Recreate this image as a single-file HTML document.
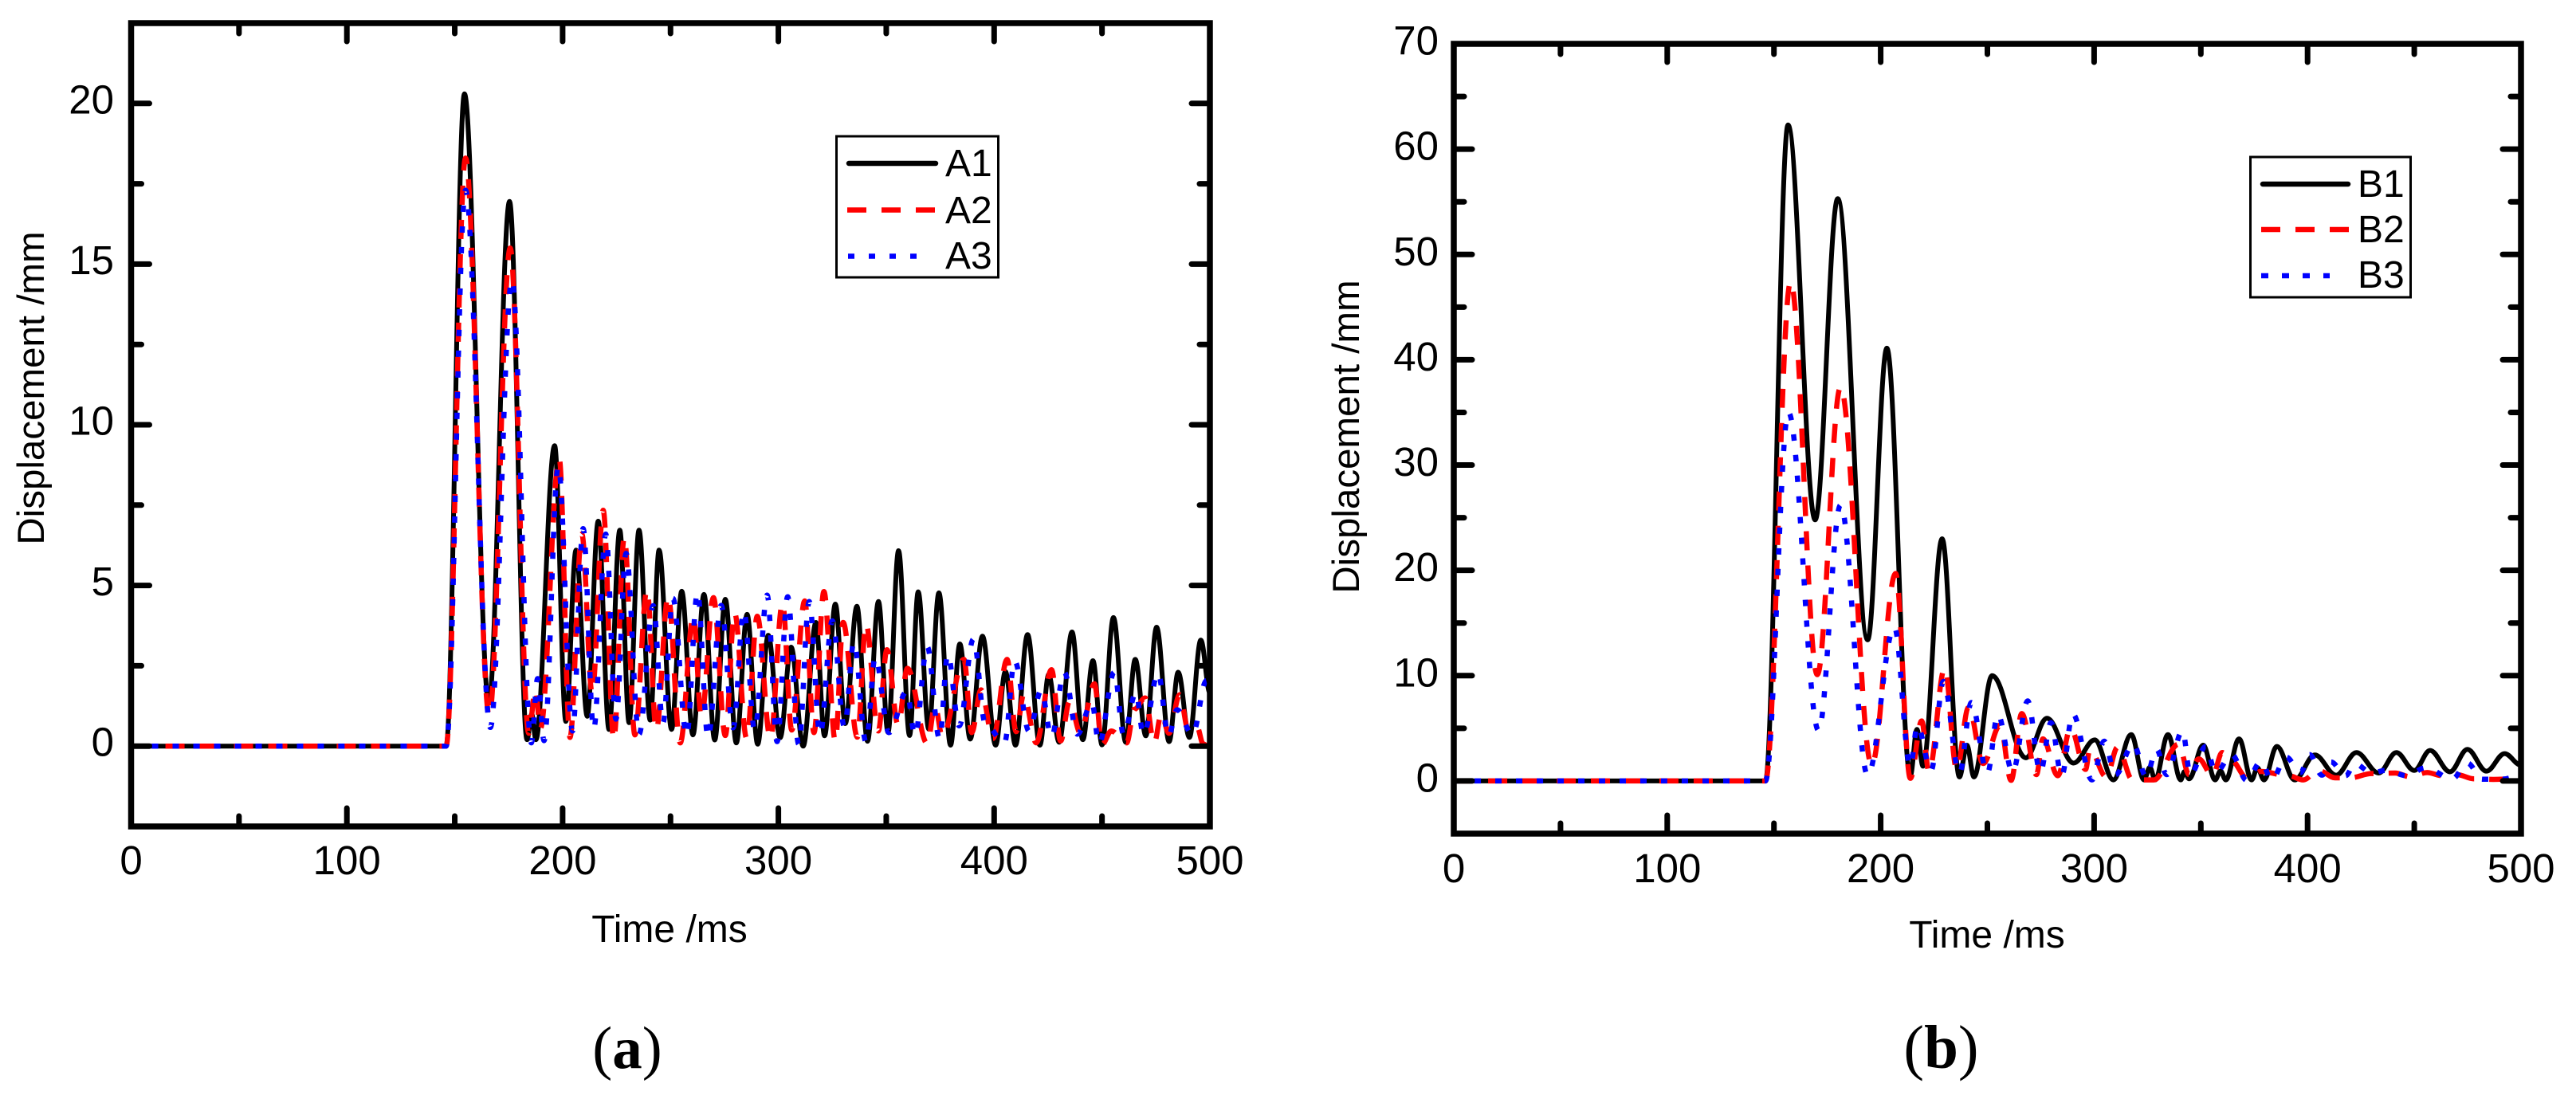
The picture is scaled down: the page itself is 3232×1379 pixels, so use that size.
<!DOCTYPE html>
<html lang="en">
<head>
<meta charset="utf-8">
<title>Displacement time histories</title>
<style>
html,body{margin:0;padding:0;background:#fff;}
svg{display:block;}
text{font-family:"Liberation Sans",sans-serif;fill:#000;}
.cap{font-family:"Liberation Serif",serif;}
</style>
</head>
<body>
<svg id="figure" xmlns="http://www.w3.org/2000/svg" width="3232" height="1379" viewBox="0 0 3232 1379">
  <rect x="0" y="0" width="3232" height="1379" fill="#fff"/>
  <g id="panelA"></g>
  <g id="panelB"></g>

  <g>
    <rect x="1049.5" y="171" width="203" height="177" fill="#fff" stroke="#000" stroke-width="3"/>
    <line x1="1065" y1="205" x2="1174" y2="205" stroke="#000" stroke-width="6.5" stroke-linecap="round"/>
    <text x="1186" y="221" font-size="48">A1</text>
    <line x1="1063" y1="263.5" x2="1175" y2="263.5" stroke="#f00" stroke-width="6.5" stroke-dasharray="24 19"/>
    <text x="1186" y="280" font-size="48">A2</text>
    <line x1="1064" y1="321.5" x2="1150" y2="321.5" stroke="#00f" stroke-width="6.5" stroke-dasharray="8 18"/>
    <text x="1186" y="337" font-size="48">A3</text>
  </g>

  <g>
    <rect x="2823.5" y="197" width="201" height="176" fill="#fff" stroke="#000" stroke-width="3"/>
    <line x1="2839" y1="231" x2="2946" y2="231" stroke="#000" stroke-width="6.5" stroke-linecap="round"/>
    <text x="2958" y="247" font-size="48">B1</text>
    <line x1="2837" y1="288" x2="2947" y2="288" stroke="#f00" stroke-width="6.5" stroke-dasharray="24 19"/>
    <text x="2958" y="304" font-size="48">B2</text>
    <line x1="2837" y1="346" x2="2923" y2="346" stroke="#00f" stroke-width="6.5" stroke-dasharray="9 17"/>
    <text x="2958" y="361" font-size="48">B3</text>
  </g>

  <text class="cap" x="787" y="1340" font-size="75" text-anchor="middle">(<tspan font-weight="bold">a</tspan>)</text>
  <text class="cap" x="2435.5" y="1340" font-size="77" text-anchor="middle">(<tspan font-weight="bold">b</tspan>)</text>
</svg>

<script>
// ---- axis tick values ----
const xMajorTicks = [0, 100, 200, 300, 400, 500];
const xMinorTicks = [50, 150, 250, 350, 450];
const yMajorTicksA = [0, 5, 10, 15, 20];
const yMinorTicksA = [2.5, 7.5, 12.5, 17.5];
const yMajorTicksB = [0, 10, 20, 30, 40, 50, 60, 70];
const yMinorTicksB = [5, 15, 25, 35, 45, 55, 65];

// ---- series A1 (turning points) ----
const timeA1 = [0,146,154.5,165.8,175.4,183.5,185.7,187.6,196.3,201.5,206.2,211.4,216.5,221.5,226.5,230.8,235.4,240.6,244.7,250.5,255.2,260.4,265.5,270.5,275.4,280.5,285.5,290.4,295.3,300.8,305.9,311.5,317.4,321.4,326.4,331,336.4,341.3,346.4,350.8,355.7,360.8,364.8,369.7,374.4,379.8,384.1,388.9,394.6,400.7,405.2,409.9,415.5,421.2,425.3,430.1,436.1,441.1,445.8,450,455.3,461,465.4,470.3,475.3,481.1,485.3,490.5,495.8,500];
const dispA1 = [0,0,20.3,1.35,16.95,.2,1.0,.2,9.35,.77,6.1,.93,7.0,.52,6.72,.73,6.72,.81,6.1,.52,4.82,.35,4.72,.19,4.57,.1,4.1,.06,3.45,.26,3.08,0,3.85,.32,4.42,.7,4.35,.15,4.5,.43,6.08,.33,4.8,.53,4.77,.03,3.18,.22,3.42,.03,2.32,.03,3.47,.03,2.23,.12,3.55,.2,2.66,.04,4.0,.12,2.7,.32,3.7,.14,2.3,.27,3.3,1.66];

// ---- series A2 ----
const timeA2 = [0,146,155,166,175.7,184.3,187.4,189.7,198.4,203.4,208.9,213.7,218.8,223.7,228.6,233.5,239.1,243.4,248.9,254.5,260.6,264.3,269.9,275.4,279.7,285.3,290.2,296.3,301.9,306.2,312.2,316.5,321.1,326.4,330,336.6,340.6,346.3,350.3,355.5,359.8,369,372.6,376,386,389.6,393.9,399.5,406,410.2,413.7,419.5,426.6,430.8,435,440,446.5,450,454.3,461.4,465,470,474.2,477.5,481,486,490,494,497,500];
const dispA2 = [0,0,18.3,.94,15.5,.4,1.75,.55,8.96,.27,6.6,1.64,7.34,.2,6.5,.35,4.86,.5,4.66,.1,4.04,.9,4.62,.33,4.15,.24,4.04,.24,4.45,.5,4.52,.42,4.81,.16,3.85,.28,3.8,.47,3,.66,2.42,.08,1.25,.3,2.7,.42,1.75,.24,2.7,.45,1.6,.1,2.38,.16,1.4,.4,1.94,.05,.47,.1,1.15,1.5,.1,1,.4,1.6,.5,.6,.05,.3];

// ---- series A3 ----
const timeA3 = [0,146,155,166.5,176.5,185.5,188.4,191.4,198,204.6,209.5,214.4,220,224.7,229.4,235.4,242,246.5,251.1,257.5,262.5,267.4,273.5,279,284,289,294.8,299.4,304.3,309.4,314.3,319.3,325,330.6,335,340.6,344.9,351.3,359.5,363.3,369,374.7,378.5,383.8,390.4,396,404.8,409.5,416.2,421.8,426.6,432.5,438.6,445.3,448.6,455.7,460,465.7,469.2,476,480.8,484.8,491.9,498.4,500];
const dispA3 = [0,0,17.3,.58,14.5,.1,2.1,.17,8.7,.47,6.77,.53,6.6,.84,6,.37,4.37,.72,4.6,.33,4.78,.27,4.38,.57,4.2,.5,4.7,.14,4.65,.06,4.5,.37,3.9,.6,3.23,.13,2.76,.42,1.7,.34,3.09,.23,2.85,.63,3.33,.68,.1,2.65,.46,1.73,.3,2.3,.37,1.35,.08,2.3,.36,1.66,.36,2.27,.32,1.13,.36,2.04,1.6];

// ---- series B1 ----
const timeB1 = [0,146,156.6,169.3,179.9,193.9,202.9,213.9,217,219.8,228.8,236.9,240.4,243.7,252.2,268,277.9,290.4,300.3,309,317.4,323.4,326.1,328.6,334.6,340.6,342.3,344.5,351.1,356.7,359.2,361.7,367.9,373.8,376.5,379.6,385.6,394,403.4,413.4,422.9,433.3,441.6,450,457.4,466.7,474.9,483.8,492.3,500];
const dispB1 = [0,0,62.3,24.8,55.3,13.4,41.1,.5,4.9,1.4,23,.38,3.4,.38,10,2.2,5.95,1.7,3.9,.1,4.4,.1,1.3,.1,4.4,.1,.88,.2,3.4,.1,.95,.1,4,.1,1.25,.1,3.28,.1,2.47,.55,2.7,.75,2.7,1,2.9,.87,3,.93,2.6,1.5];

// ---- series B2 ----
const timeB2 = [0,146,157.8,170.3,181.2,195.8,207,213.9,219.2,222.6,230,235.6,241.2,248,256,261.1,266.1,273,276,283,289,296,298,305.7,311,318,328,339.6,344.5,349,355.5,360,364,372,378,391,398,405,413,420,430,441,448,456,463,470,478,487,497,500];
const dispB2 = [0,0,47.4,10.1,37.4,1.5,19.7,.25,5.7,.9,10.7,1.1,7,1.66,5.3,.06,6.4,.6,4,.5,5,1.1,3,.38,3.2,.1,.1,3.5,.6,2.1,.5,2.7,2,.2,.9,.5,.1,1,.3,.3,.7,.75,.4,.8,.5,.6,.2,.15,.2,.1];

// ---- series B3 ----
const timeB3 = [0,146,156.8,170.9,181.2,193.9,206.4,213.9,217.2,223.6,229.4,236.9,242.5,250,254.9,261.8,268.9,274.8,279.8,284.8,290,299,304.7,310,318.4,324.4,329.2,334,341.4,345.1,352.3,357,364.5,371.5,378.2,383.2,390,396.7,401,406.7,411,417.8,422.2,430,436.7,446.7,455.2,467.8,474.9,481.8,491.1,500];
const dispB3 = [0,0,35,4.8,26.2,.55,14.6,1.4,5.25,1,9.46,.75,7.45,.75,6.3,.85,7.6,.85,5.55,.5,6.36,.1,3.78,.6,3.5,.4,3,.6,4.75,.6,3.28,.8,2.5,.05,1.84,.1,2.27,.8,2.5,.55,1.8,.5,1.63,.77,1,.5,1.26,.2,1.7,.17,.17,.5];

const NS = 'http://www.w3.org/2000/svg';

function linearScale(d0, d1, p0, p1) {
  return function (v) { return p0 + (v - d0) * (p1 - p0) / (d1 - d0); };
}

function smoothPath(ts, vs, xs, ys) {
  const n = Math.min(ts.length, vs.length);
  let d = 'M' + xs(ts[0]).toFixed(2) + ' ' + ys(vs[0]).toFixed(2);
  for (let i = 1; i < n; i++) {
    const x0 = xs(ts[i - 1]), y0 = ys(vs[i - 1]), x1 = xs(ts[i]), y1 = ys(vs[i]);
    const k = (x1 - x0) * 0.36;
    d += 'C' + (x0 + k).toFixed(2) + ' ' + y0.toFixed(2) + ' ' + (x1 - k).toFixed(2) + ' ' + y1.toFixed(2) + ' ' + x1.toFixed(2) + ' ' + y1.toFixed(2);
  }
  return d;
}

function drawSeries(parent, ts, vs, xs, ys, color, dash, name) {
  const el = document.createElementNS(NS, 'path');
  
  
  el.setAttribute('d', smoothPath(ts, vs, xs, ys));
  el.setAttribute('fill', 'none');
  el.setAttribute('stroke', color);
  el.setAttribute('stroke-width', dash ? '6.5' : '6');
  el.setAttribute('stroke-linejoin', 'round');
  if (dash) el.setAttribute('stroke-dasharray', dash);
  parent.appendChild(el);
}

function drawTick(parent, x1, y1, x2, y2) {
  const el = document.createElementNS(NS, 'line');
  
  
  el.setAttribute('x1', x1);
  el.setAttribute('y1', y1);
  el.setAttribute('x2', x2);
  el.setAttribute('y2', y2);
  el.setAttribute('stroke', '#000');
  el.setAttribute('stroke-width', '7');
  el.setAttribute('stroke-linecap', 'round');
  parent.appendChild(el);
}

function drawLabel(parent, x, y, str, anchor, size, name) {
  const el = document.createElementNS(NS, 'text');
  
  
  el.setAttribute('x', x);
  el.setAttribute('y', y);
  el.setAttribute('text-anchor', anchor);
  el.setAttribute('font-size', size);
  el.textContent = str;
  parent.appendChild(el);
  return el;
}

function drawAxes(parent, box, xs, ys, yMajor, yMinor, opt) {
  const majorLen = 20, minorLen = 10, inset = 3;
  xMajorTicks.forEach(function (t) {
    const x = xs(t);
    drawTick(parent, x, box.bottom - inset, x, box.bottom - inset - majorLen);
    drawTick(parent, x, box.top + inset, x, box.top + inset + majorLen);
    drawLabel(parent, x, opt.xLabelY, String(t), 'middle', 51, 'x-tick-label');
  });
  xMinorTicks.forEach(function (t) {
    const x = xs(t);
    drawTick(parent, x, box.bottom - inset, x, box.bottom - inset - minorLen);
    drawTick(parent, x, box.top + inset, x, box.top + inset + minorLen);
  });
  yMajor.forEach(function (v) {
    const y = ys(v);
    drawTick(parent, box.left + inset, y, box.left + inset + majorLen, y);
    drawTick(parent, box.right - inset, y, box.right - inset - majorLen, y);
    drawLabel(parent, opt.yLabelX, y + opt.yLabelDy, String(v), 'end', 51, 'y-tick-label');
  });
  yMinor.forEach(function (v) {
    const y = ys(v);
    drawTick(parent, box.left + inset, y, box.left + inset + minorLen, y);
    drawTick(parent, box.right - inset, y, box.right - inset - minorLen, y);
  });
  const frame = document.createElementNS(NS, 'rect');
  
  
  frame.setAttribute('x', box.left);
  frame.setAttribute('y', box.top);
  frame.setAttribute('width', box.right - box.left);
  frame.setAttribute('height', box.bottom - box.top);
  frame.setAttribute('fill', 'none');
  frame.setAttribute('stroke', '#000');
  frame.setAttribute('stroke-width', '7.5');
  parent.appendChild(frame);

  drawLabel(parent, opt.xTitleX, opt.xTitleY, 'Time /ms', 'middle', 48, 'x-axis-title');
  const yt = drawLabel(parent, opt.yTitleX, opt.yTitleY, 'Displacement /mm', 'middle', 47.5, 'y-axis-title');
  yt.setAttribute('transform', 'rotate(-90 ' + opt.yTitleX + ' ' + opt.yTitleY + ')');
}

// ---- Panel A ----
const gA = document.getElementById('panelA');
const boxA = { left: 164.5, right: 1518, top: 29, bottom: 1037 };
const xA = linearScale(0, 500, boxA.left, boxA.right);
const yA = linearScale(-2.5, 22.5, boxA.bottom, boxA.top);
drawSeries(gA, timeA1, dispA1, xA, yA, '#000', null, 'series-a1');
drawSeries(gA, timeA2, dispA2, xA, yA, '#f00', '24 19', 'series-a2');
drawSeries(gA, timeA3, dispA3, xA, yA, '#00f', '8 18', 'series-a3');
drawAxes(gA, boxA, xA, yA, yMajorTicksA, yMinorTicksA, {
  xLabelY: 1097, yLabelX: 143, yLabelDy: 12.5,
  xTitleX: 840, xTitleY: 1182, yTitleX: 55, yTitleY: 487
});

// ---- Panel B ----
const gB = document.getElementById('panelB');
const boxB = { left: 1824, right: 3163, top: 55, bottom: 1046 };
const xB = linearScale(0, 500, boxB.left, boxB.right);
const yB = linearScale(-5, 70, boxB.bottom, boxB.top);
drawSeries(gB, timeB1, dispB1, xB, yB, '#000', null, 'series-b1');
drawSeries(gB, timeB2, dispB2, xB, yB, '#f00', '24 19', 'series-b2');
drawSeries(gB, timeB3, dispB3, xB, yB, '#00f', '8 18', 'series-b3');
drawAxes(gB, boxB, xB, yB, yMajorTicksB, yMinorTicksB, {
  xLabelY: 1107, yLabelX: 1805, yLabelDy: 13.5,
  xTitleX: 2493, xTitleY: 1189, yTitleX: 1705, yTitleY: 548
});
</script>
</body>
</html>
